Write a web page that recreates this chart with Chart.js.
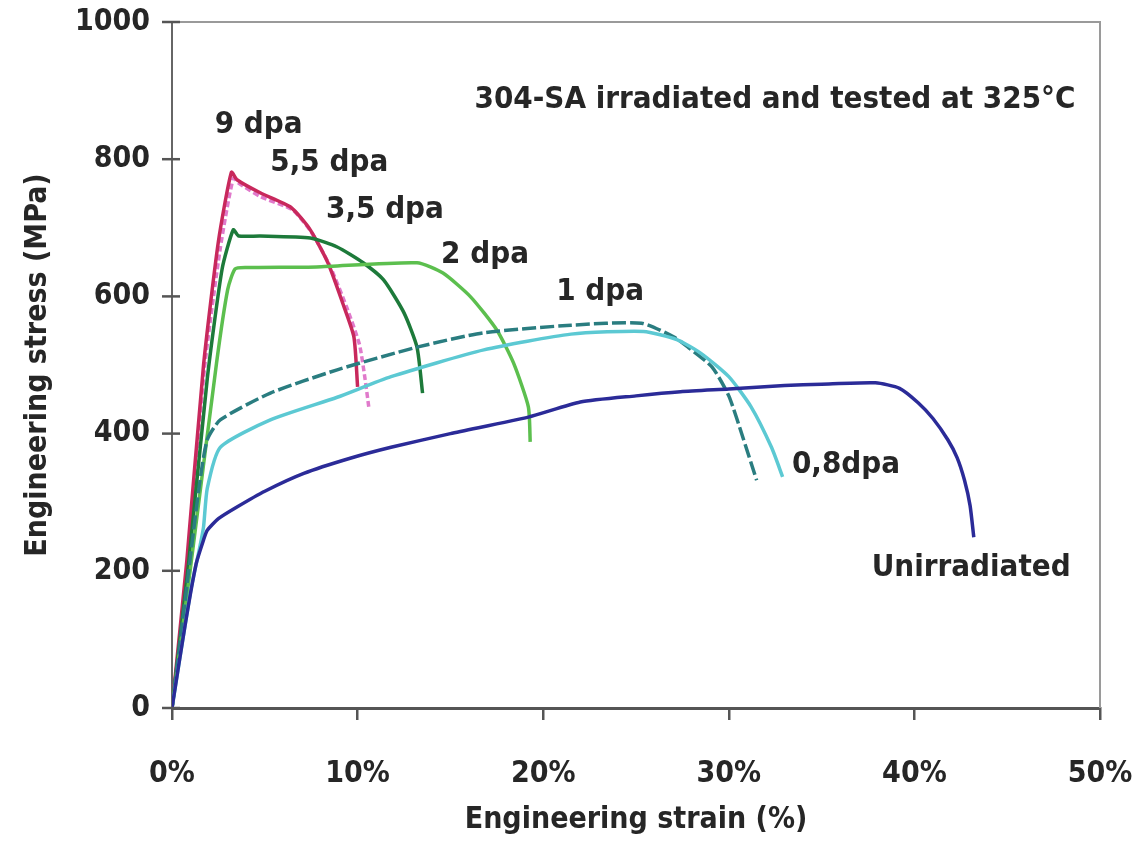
<!DOCTYPE html>
<html>
<head>
<meta charset="utf-8">
<script src="https://cdn.jsdelivr.net/npm/chart.js@4.4.1/dist/chart.umd.min.js"></script>
<style>
  body { margin: 0; background: #fff; }
  #wrap { width: 1141px; height: 842px; position: relative; }
</style>
</head>
<body>
<div id="wrap"><canvas id="myChart"></canvas></div>
<script>
// strain in %, stress in MPa
const strain9 = [0, 0.8, 1.7, 2.5, 3.2, 3.5, 4.75, 6.4, 7.45, 8.4, 9.2, 9.8, 10.0];
const stress9 = [0, 215, 500, 680, 781, 770, 751, 730, 697, 649, 590, 541, 468];

const strain55 = [0, 0.85, 1.75, 2.6, 3.3, 3.6, 4.8, 6.5, 7.5, 8.5, 9.4, 10.1, 10.4, 10.6];
const stress55 = [0, 212, 495, 670, 772, 765, 745, 726, 694, 645, 585, 530, 480, 439];

const strain35 = [0, 0.9, 1.9, 2.7, 3.3, 3.6, 4.75, 7.45, 8.9, 10.3, 11.4, 12.5, 13.2, 13.5];
const stress35 = [0, 212, 480, 640, 697, 688, 688, 685, 672, 649, 624, 576, 526, 459];

const strain2 = [0, 1.0, 2.4, 3.0, 3.4, 4.0, 7.8, 13.2, 14.6, 16.1, 17.5, 18.4, 19.2, 19.3];
const stress2 = [0, 205, 503, 610, 640, 642, 643, 649, 634, 599, 551, 503, 439, 388];

const strain1 = [0, 0.9, 1.5, 1.9, 2.6, 5.3, 8.9, 13.2, 16.8, 21.5, 25.3, 27.1, 27.8, 29.1, 30.0, 30.8, 31.5];
const stress1 = [0, 200, 330, 391, 420, 459, 493, 526, 547, 558, 561, 540, 526, 497, 455, 391, 332];

const strain08 = [0, 1.0, 1.5, 1.7, 1.9, 2.6, 5.3, 8.9, 11.8, 16.8, 21.5, 25.4, 27.2, 28.5, 30.0, 31.2, 32.3, 32.9];
const stress08 = [0, 170, 235, 264, 320, 380, 420, 453, 483, 522, 545, 549, 537, 517, 483, 439, 380, 337];

const strainU = [0, 0.7, 1.3, 1.7, 1.9, 2.5, 3.5, 5.0, 7.1, 9.6, 11.8, 15.0, 19.2, 22.0, 25.0, 27.4, 30.0, 33.0, 35.0, 37.9, 39.2, 40.2, 41.0, 41.8, 42.3, 42.7, 43.0, 43.2];
const stressU = [0, 120, 210, 245, 259, 276, 293, 316, 342, 364, 380, 400, 424, 446, 455, 461, 465, 470, 472, 474, 466, 445, 422, 391, 365, 332, 295, 249];

const yTicks = [0, 200, 400, 600, 800, 1000];
const xTicks = [0, 10, 20, 30, 40, 50];

const FONT = "'Liberation Sans Narrow', 'DejaVu Sans Condensed', sans-serif";
const INK = '#262626';

function pts(xs, ys) {
    return xs.map((x, i) => ({x: x, y: ys[i]}));
}

// curve labels, anchored in data units (left edge, middle)
const notes = [
    {text: '304-SA irradiated and tested at 325°C', x: 16.3, y: 886},
    {text: '9 dpa', x: 2.3, y: 850},
    {text: '5,5 dpa', x: 5.3, y: 794},
    {text: '3,5 dpa', x: 8.3, y: 726},
    {text: '2 dpa', x: 14.5, y: 660},
    {text: '1 dpa', x: 20.7, y: 606},
    {text: '0,8dpa', x: 33.4, y: 354},
    {text: 'Unirradiated', x: 37.7, y: 204}
];

const extras = {
    id: 'extras',
    afterDraw(chart) {
        const {ctx, chartArea: a, scales: {x, y}} = chart;
        ctx.save();
        // frame top / right
        ctx.strokeStyle = '#9a9a9a';
        ctx.lineWidth = 2;
        ctx.beginPath();
        ctx.moveTo(a.left, a.top);
        ctx.lineTo(a.right, a.top);
        ctx.lineTo(a.right, a.bottom);
        ctx.stroke();
        // y ticks crossing the axis
        ctx.strokeStyle = '#555';
        ctx.lineWidth = 2.5;
        yTicks.forEach(v => {
            const py = y.getPixelForValue(v);
            ctx.beginPath();
            ctx.moveTo(a.left - 10, py);
            ctx.lineTo(a.left + 8, py);
            ctx.stroke();
        });
        // curve notes
        ctx.fillStyle = INK;
        ctx.font = 'bold 31px ' + FONT;
        ctx.textBaseline = 'middle';
        ctx.textAlign = 'left';
        notes.forEach(n => {
            ctx.fillText(n.text, x.getPixelForValue(n.x), y.getPixelForValue(n.y));
        });
        ctx.restore();
    }
};

const series = [
    {label: 'Unirradiated', data: pts(strainU, stressU), borderColor: '#2b2b98'},
    {label: '0,8 dpa', data: pts(strain08, stress08), borderColor: '#5cc9d3'},
    {label: '1 dpa', data: pts(strain1, stress1), borderColor: '#2a7d80', borderDash: [14, 4]},
    {label: '2 dpa', data: pts(strain2, stress2), borderColor: '#5cbf4e'},
    {label: '3,5 dpa', data: pts(strain35, stress35), borderColor: '#1d7a3a'},
    {label: '9 dpa', data: pts(strain9, stress9), borderColor: '#c8285c'},
    {label: '5,5 dpa', data: pts(strain55, stress55), borderColor: '#e07acb', borderDash: [6, 3]}
];

series.forEach(s => {
    s.borderWidth = 3.5;
    s.pointRadius = 0;
    s.showLine = true;
    s.fill = false;
    s.tension = 0.2;
});

new Chart(document.getElementById('myChart'), {
    type: 'scatter',
    data: {datasets: series},
    options: {
        responsive: true,
        maintainAspectRatio: false,
        animation: false,
        layout: {padding: {top: 22, right: 41, left: 0, bottom: 0}},
        plugins: {legend: {display: false}, tooltip: {enabled: false}},
        scales: {
            x: {
                type: 'linear',
                min: 0,
                max: 50,
                afterFit: s => {
                    s.height = 134;
                    s.paddingLeft = 0;
                    s.paddingRight = 0;
                },
                afterBuildTicks: s => { s.ticks = xTicks.map(v => ({value: v})); },
                ticks: {
                    callback: v => v + '%',
                    color: INK,
                    font: {family: FONT, size: 30, weight: 'bold'},
                    padding: 36,
                    maxRotation: 0
                },
                grid: {drawOnChartArea: false, drawTicks: true, tickLength: 12, color: '#555', lineWidth: 2.5},
                border: {display: true, color: '#555', width: 3},
                title: {
                    display: true,
                    text: 'Engineering strain (%)',
                    color: INK,
                    font: {family: FONT, size: 30, weight: 'bold'},
                    padding: {top: 0, bottom: 4}
                }
            },
            y: {
                min: 0,
                max: 1000,
                afterFit: s => {
                    s.width = 172;
                    s.paddingTop = 0;
                    s.paddingBottom = 0;
                },
                afterBuildTicks: s => { s.ticks = yTicks.map(v => ({value: v})); },
                ticks: {
                    callback: v => String(v),
                    color: INK,
                    font: {family: FONT, size: 30, weight: 'bold'},
                    padding: 14
                },
                grid: {display: false},
                border: {display: true, color: '#666', width: 2},
                title: {
                    display: true,
                    text: 'Engineering stress (MPa)',
                    color: INK,
                    font: {family: FONT, size: 30, weight: 'bold'},
                    padding: {top: 20, bottom: 0}
                }
            }
        }
    },
    plugins: [extras]
});
</script>
</body>
</html>
